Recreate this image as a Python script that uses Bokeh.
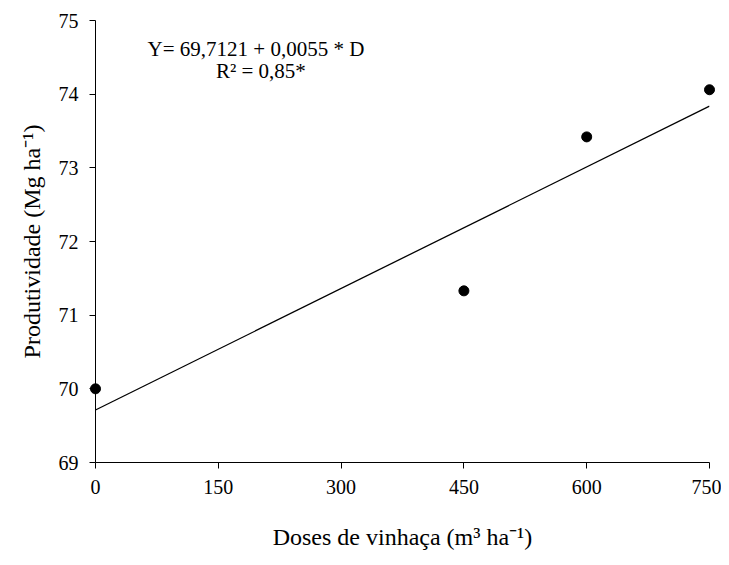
from bokeh.plotting import figure
from bokeh.models import Range1d, FixedTicker, Label
from bokeh.embed import file_html
from bokeh.resources import INLINE

doses = [0, 450, 600, 750]
produtividade = [70.0, 71.33, 73.42, 74.06]
intercept = 69.7121
slope = 0.0055
x_ticks = [0, 150, 300, 450, 600, 750]
y_ticks = [69, 70, 71, 72, 73, 74, 75]

FONT = "Liberation Serif"

p = figure(width=721, height=557, output_backend="svg", toolbar_location=None,
           x_range=Range1d(0, 750), y_range=Range1d(69, 75),
           min_border_left=95, min_border_top=20, min_border_right=12, min_border_bottom=95)
p.outline_line_color = None
p.xgrid.visible = False
p.ygrid.visible = False

for ax in (p.xaxis[0], p.yaxis[0]):
    ax.axis_line_color = "black"
    ax.axis_line_width = 1
    ax.major_tick_line_color = "black"
    ax.minor_tick_line_color = None
    ax.major_tick_out = 6
    ax.major_tick_in = 0
    ax.major_label_text_font = FONT
    ax.major_label_text_font_size = "20px"
    ax.major_label_text_color = "black"
    ax.axis_label_text_font = FONT
    ax.axis_label_text_font_size = "24px"
    ax.axis_label_text_font_style = "normal"
    ax.axis_label_text_color = "black"

p.xaxis.ticker = FixedTicker(ticks=x_ticks)
p.yaxis.ticker = FixedTicker(ticks=y_ticks)
p.xaxis.axis_label = "Doses de vinhaça (m³ ha⁻¹)"
p.yaxis.axis_label = "Produtividade (Mg ha⁻¹)"
p.xaxis.major_label_standoff = 11
p.xaxis.axis_label_standoff = 27
p.yaxis.major_label_standoff = 11
p.yaxis.axis_label_standoff = 11

xs = [0, 750]
ys = [intercept + slope * x for x in xs]
p.line(xs, ys, line_color="black", line_width=1.3)
# drawn at overlay level so the markers at 0 and 750 are not clipped by the frame
p.scatter(doses, produtividade, size=10, color="black", level="overlay")

p.add_layout(Label(x=196, y=74.616, text="Y= 69,7121 + 0,0055 * D", text_align="center",
                   text_baseline="alphabetic", text_font=FONT, text_font_size="21px",
                   text_color="black"))
p.add_layout(Label(x=202, y=74.321, text="R² = 0,85*", text_align="center",
                   text_baseline="alphabetic", text_font=FONT, text_font_size="21px",
                   text_color="black"))

open("out.html", "w").write(file_html(p, INLINE))
